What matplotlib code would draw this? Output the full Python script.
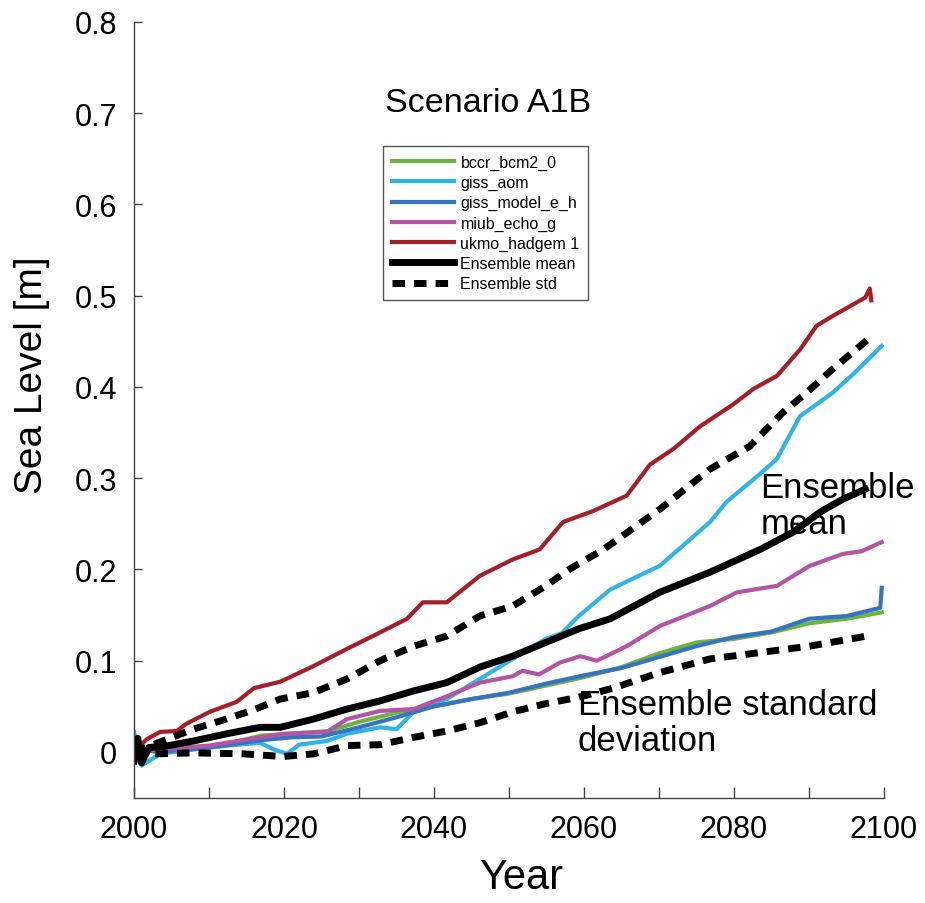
import matplotlib
matplotlib.use("Agg")
import matplotlib.pyplot as plt
from matplotlib.ticker import MultipleLocator, FuncFormatter

plt.rcParams['font.family'] = ['Liberation Sans', 'DejaVu Sans']

# --- data (year, sea level in m) ---
bccr_years = [2000, 2003, 2008, 2012, 2017, 2021, 2026, 2030, 2035, 2040, 2045, 2050,
              2055, 2060, 2065, 2070, 2075, 2080, 2085, 2090, 2095, 2099.7]
bccr_vals = [0.0, 0.002, 0.004, 0.008, 0.018, 0.02, 0.023, 0.033, 0.043, 0.05, 0.058, 0.064,
             0.073, 0.082, 0.093, 0.108, 0.12, 0.124, 0.131, 0.141, 0.146, 0.153]

giss_aom_years = [2000, 2001, 2003.5, 2005.3, 2008, 2012.4, 2016.8, 2018.6, 2020.4, 2022,
                  2025.7, 2028.4, 2032.8, 2035, 2037.3, 2041.7, 2046.1, 2050.5, 2054.9, 2057,
                  2059.3, 2063.5, 2066, 2070.1, 2076.8, 2079, 2083.5, 2085.7, 2088.8, 2093.2,
                  2096, 2099.7]
giss_aom_vals = [0.022, -0.015, -0.002, 0.0, 0.003, 0.007, 0.01, 0.003, -0.002, 0.008,
                 0.012, 0.02, 0.027, 0.025, 0.044, 0.058, 0.08, 0.102, 0.124, 0.13,
                 0.149, 0.178, 0.188, 0.204, 0.252, 0.274, 0.305, 0.321, 0.368, 0.394,
                 0.415, 0.445]

giss_e_h_years = [2000, 2003, 2008, 2012, 2017, 2021, 2025, 2030, 2035, 2040, 2045, 2050,
                  2055, 2060, 2065, 2070, 2075, 2080, 2085, 2090, 2095, 2099.5, 2099.7]
giss_e_h_vals = [0.005, 0.0, 0.003, 0.007, 0.013, 0.016, 0.017, 0.027, 0.038, 0.05, 0.058,
                 0.065, 0.075, 0.084, 0.092, 0.104, 0.116, 0.126, 0.132, 0.146, 0.149,
                 0.158, 0.18]

miub_years = [2000, 2003.5, 2010, 2016.8, 2020, 2025.7, 2028.4, 2032.8, 2037.3, 2041.7,
              2046.1, 2050.5, 2051.8, 2054, 2056.8, 2059.5, 2061.7, 2065.7, 2070.1, 2076.8,
              2080.4, 2085.7, 2090.1, 2094.5, 2097, 2099.7]
miub_vals = [0.0, 0.003, 0.007, 0.016, 0.02, 0.022, 0.036, 0.045, 0.047, 0.061,
             0.076, 0.083, 0.089, 0.085, 0.098, 0.105, 0.1, 0.116, 0.138, 0.16,
             0.175, 0.182, 0.204, 0.217, 0.22, 0.23]

ukmo_years = [2000, 2001.7, 2003.5, 2005.7, 2007, 2010.1, 2013.7, 2016, 2019.5, 2023.9,
              2028.4, 2032.8, 2036.4, 2038.5, 2041.7, 2046.1, 2050.5, 2054.1, 2057.2, 2061.2,
              2065.7, 2068.8, 2071.9, 2075.5, 2079.9, 2082.6, 2085.7, 2088.8, 2091, 2093.2,
              2097.5, 2098.1, 2098.3]
ukmo_vals = [0.0, 0.014, 0.022, 0.023, 0.031, 0.044, 0.055, 0.07, 0.077, 0.094,
             0.113, 0.131, 0.146, 0.164, 0.164, 0.193, 0.211, 0.222, 0.252, 0.264,
             0.281, 0.315, 0.332, 0.357, 0.381, 0.398, 0.412, 0.441, 0.467, 0.478,
             0.498, 0.508, 0.495]

mean_years = [2000, 2000.5, 2001, 2002, 2004, 2007.9, 2012.4, 2016.8, 2019.5, 2023.9,
              2028.4, 2032.8, 2037.3, 2041.7, 2046.1, 2050.5, 2054.9, 2059.3, 2063.5, 2070.1,
              2076.8, 2083.5, 2087.9, 2091.5, 2094.5, 2097.5]
mean_vals = [-0.01, 0.015, -0.012, 0.005, 0.006, 0.012, 0.02, 0.027, 0.027, 0.036,
             0.047, 0.056, 0.067, 0.076, 0.093, 0.105, 0.12, 0.135, 0.146, 0.175,
             0.197, 0.222, 0.241, 0.263, 0.277, 0.288]

std_hi_years = [2000, 2003.5, 2007.9, 2011.5, 2015.9, 2019.5, 2023.9, 2028.4, 2032.8, 2037.3,
                2041.7, 2046.1, 2050.5, 2054.9, 2058, 2062.6, 2070.1, 2076.8, 2082.1, 2086.5,
                2089.7, 2093.2, 2097.7]
std_hi_vals = [0.0, 0.011, 0.025, 0.034, 0.046, 0.058, 0.065, 0.08, 0.1, 0.116,
               0.127, 0.149, 0.16, 0.182, 0.2, 0.222, 0.266, 0.31, 0.335, 0.372,
               0.394, 0.42, 0.451]

std_lo_years = [2000, 2003, 2007.9, 2014.5, 2019.9, 2024, 2028.4, 2032.8, 2037.3, 2041.7,
                2046.1, 2050.5, 2054.9, 2059.3, 2063.9, 2070.1, 2076.8, 2083.5, 2090.1, 2097.7]
std_lo_vals = [0.0, -0.002, -0.001, -0.002, -0.005, -0.002, 0.007, 0.008, 0.016, 0.023,
               0.032, 0.044, 0.053, 0.06, 0.07, 0.087, 0.102, 0.109, 0.116, 0.127]

fig = plt.figure(figsize=(9.25, 9.04), dpi=100)
ax = fig.add_axes([134 / 925, 1 - 798.6 / 904, 750 / 925, 775.6 / 904])

lw = 3.0
ax.plot(bccr_years, bccr_vals, color='#6db33f', lw=lw, label='bccr_bcm2_0')
ax.plot(giss_aom_years, giss_aom_vals, color='#30b4e8', lw=lw, label='giss_aom')
ax.plot(giss_e_h_years, giss_e_h_vals, color='#3774c0', lw=lw, label='giss_model_e_h')
ax.plot(miub_years, miub_vals, color='#b256a3', lw=lw, label='miub_echo_g')
ax.plot(ukmo_years, ukmo_vals, color='#a41f27', lw=lw, label='ukmo_hadgem 1')
ax.plot(mean_years, mean_vals, color='black', lw=5, label='Ensemble mean')
ax.plot(std_hi_years, std_hi_vals, color='black', lw=5, ls=(0, (1.8, 1.3)),
        dash_capstyle='butt', label='Ensemble std')
ax.plot(std_lo_years, std_lo_vals, color='black', lw=5, ls=(0, (1.8, 1.3)),
        dash_capstyle='butt')

ax.set_xlim(2000, 2100)
ax.set_ylim(-0.05, 0.8)
ax.xaxis.set_major_locator(MultipleLocator(20))
ax.xaxis.set_minor_locator(MultipleLocator(10))
ax.yaxis.set_major_locator(MultipleLocator(0.1))
ax.yaxis.set_major_formatter(FuncFormatter(lambda v, p: f'{v:.1f}' if abs(v) > 1e-9 else '0'))
ax.tick_params(which='both', direction='in', length=6, width=1, color='#444',
               labelsize=22, pad=12)
ax.tick_params(axis='x', which='both', length=8)

for side in ['top', 'right']:
    ax.spines[side].set_visible(False)
for side in ['left', 'bottom']:
    ax.spines[side].set_color('#444')
    ax.spines[side].set_linewidth(1)

ax.set_xlabel('Year', fontsize=30)
ax.set_ylabel('Sea Level [m]', fontsize=28)
ax.xaxis.set_label_coords(0.516, -0.077)
ax.yaxis.set_label_coords(-0.112, 0.546)

ax.text(2033.5, 0.729, 'Scenario A1B', fontsize=24.5, ha='left', va='top')
ax.text(2083.5, 0.308, 'Ensemble\nmean', fontsize=25, ha='left', va='top', linespacing=1.12)
ax.text(2059.2, 0.070, 'Ensemble standard\ndeviation', fontsize=25, ha='left', va='top',
        linespacing=1.12)

leg = ax.legend(loc='upper left', bbox_to_anchor=(383 / 925, 1 - 147 / 904),
                bbox_transform=fig.transFigure, fontsize=11.5, frameon=True,
                fancybox=False, framealpha=1, edgecolor='#555', borderpad=0.55,
                labelspacing=0.32, handlelength=3.9, handletextpad=0.4, borderaxespad=0)
leg.get_frame().set_linewidth(1)

fig.savefig('out.png', dpi=100)
